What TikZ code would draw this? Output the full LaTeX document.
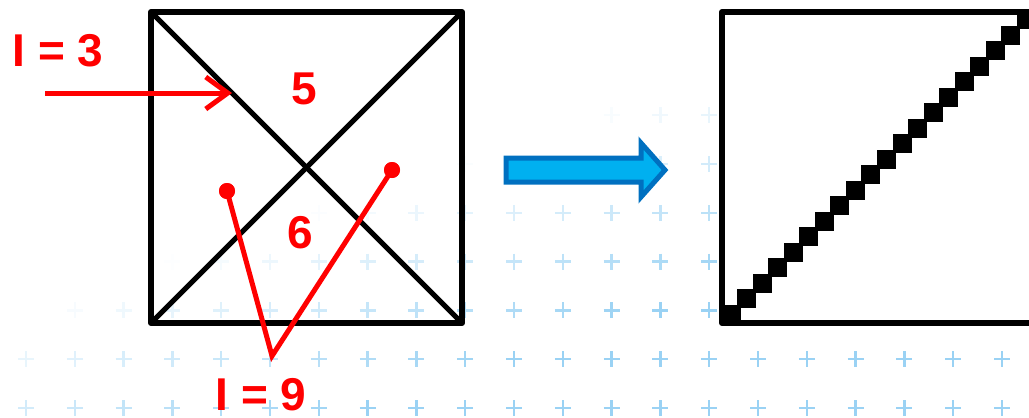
\documentclass[tikz,border=0pt]{standalone}
\usepackage{fontspec}
\setmainfont{Liberation Sans}
\usetikzlibrary{arrows.meta}
\definecolor{plusblue}{RGB}{120,195,240}
\definecolor{redc}{RGB}{255,0,0}
\definecolor{arrowfill}{RGB}{0,176,240}
\definecolor{arrowline}{RGB}{0,112,192}
\begin{document}
\begin{tikzpicture}[x=1pt,y=-1pt,
  frame/.style={line width=6pt, line join=round, draw=black},
  diag/.style={line width=5pt, draw=black},
  redline/.style={draw=redc, line width=5pt},
  lab/.style={text=redc, font=\fontsize{46}{50}\selectfont\bfseries, inner sep=0pt},
  dot/.style={circle, fill=redc, minimum size=16pt, inner sep=0pt},
  plusmark/.style={draw=plusblue, line width=2.5pt},
  blockarrow/.style={line width=5pt, draw=arrowline, fill=arrowfill, line join=miter}]
\useasboundingbox (0,0) rectangle (1029,418);
\clip (0,0) rectangle (1029,418);
% background plus pattern
\foreach \i in {0,...,20}{
 \foreach \j in {0,...,7}{
   \pgfmathsetmacro\px{26+48.8*\i}
   \pgfmathsetmacro\py{408-48.8*\j}
   \pgfmathsetmacro\u{89+0.357*\px-(408-\py)}
   \pgfmathsetmacro\op{max(0,min(1,\u/220))*0.75}
   \ifdim\op pt>0.01pt
     \draw[plusmark, draw opacity=\op] (\px-8,\py) -- (\px+8,\py) (\px,\py-8) -- (\px,\py+8);
   \fi
 }}
% left square
\coordinate (A) at (151,12);
\coordinate (B) at (462,12);
\coordinate (C) at (462,323);
\coordinate (D) at (151,323);
\draw[diag] (A) -- (C);
\draw[diag] (B) -- (D);
\draw[frame] (A) rectangle (C);
% I = 3 arrow
\node[lab] (l3) at (58,51) {I = 3};
\coordinate (s3) at (45,93);
\coordinate (t3) at (232,93);
\draw[redline, -{Straight Barb[length=22pt,width=32pt]}] (s3) -- (t3);
\node[lab] (n5) at (304,89) {5};
\node[lab] (n6) at (300,233) {6};
% I = 9 lines
\coordinate (v) at (272,356);
\node[dot] (d1) at (227,191) {};
\node[dot] (d2) at (392,170) {};
\draw[redline, line join=miter] (d1.center) -- (v) -- (d2.center);
\node[dot] at (d1) {};
\node[dot] at (d2) {};
\node[lab] (l9) at (261,395) {I = 9};
% block arrow
\draw[blockarrow] (506,158) -- (641,158) -- (641,143) -- (665,170) -- (641,197) -- (641,182) -- (506,182) -- cycle;
% right square
\draw[frame, fill=white] (722,12) rectangle (1034,323);
\foreach \k in {0,...,19}{
  \pgfmathsetmacro\cx{731+15.55*\k}
  \pgfmathsetmacro\cy{314-15.5*\k}
  \fill[black] (\cx-9.5,\cy-9.5) rectangle (\cx+9.5,\cy+9.5);
}
\end{tikzpicture}
\end{document}
